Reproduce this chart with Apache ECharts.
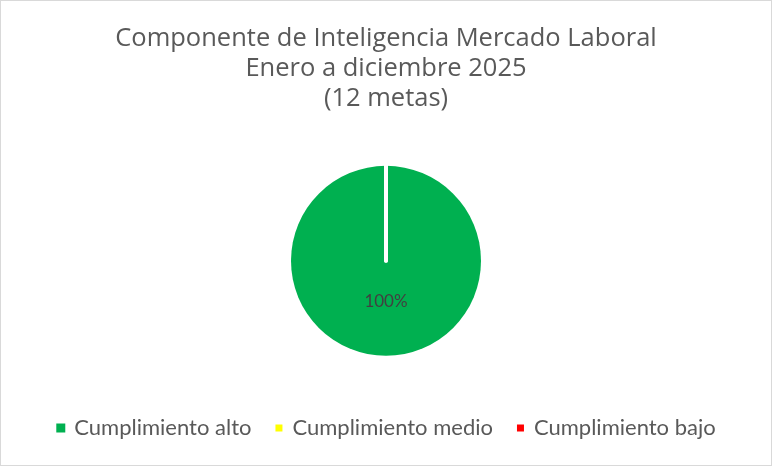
<!DOCTYPE html>
<html><head><meta charset="utf-8">
<script src="https://cdn.jsdelivr.net/npm/echarts@6/dist/echarts.min.js"></script>
<style>html,body{margin:0;padding:0;background:#fff}#c{width:770px;height:464px;border:1px solid #d9d9d9}</style>
</head><body><div id="c"></div>
<script>
const titleLines = ['Componente de Inteligencia Mercado Laboral', 'Enero a diciembre 2025', '(12 metas)'];
const categories = ['Cumplimiento alto', 'Cumplimiento medio', 'Cumplimiento bajo'];
const values = [12, 0, 0];
const colors = ['#00b050', '#ffff00', '#ff0000'];

const chart = echarts.init(document.getElementById('c'));
const total = values.reduce((a, b) => a + b, 0);
chart.setOption({
  animation: false,
  title: {
    text: titleLines.join('\n'),
    left: 'center', top: 18,
    textStyle: { fontFamily: 'Open Sans', fontWeight: 'normal', fontSize: 25.5, color: '#595959', lineHeight: 30 }
  },
  legend: {
    bottom: 21, left: 'center',
    itemWidth: 9, itemHeight: 9, itemGap: 22,
    icon: 'rect',
    textStyle: { fontFamily: 'Lato', fontSize: 22, color: '#595959', padding: [0, 0, 0, 4] },
    data: categories
  },
  series: [{
    type: 'pie',
    center: ['50%', '56%'],
    radius: [0, 95],
    startAngle: 90,
    clockwise: true,
    avoidLabelOverlap: false,
    labelLine: { show: false },
    data: categories.map((n, i) => ({
      name: n, value: values[i],
      itemStyle: values[i] === 0
        ? { color: colors[i], borderColor: '#ffffff', borderWidth: 4, borderCap: 'round' }
        : { color: colors[i], borderWidth: 0 },
      label: {
        show: values[i] > 0, position: 'inside',
        formatter: () => Math.round(values[i] / total * 100) + '%',
        fontFamily: 'Lato', fontSize: 17, color: '#404040', offset: [0, -10]
      }
    }))
  }]
});
</script></body></html>
